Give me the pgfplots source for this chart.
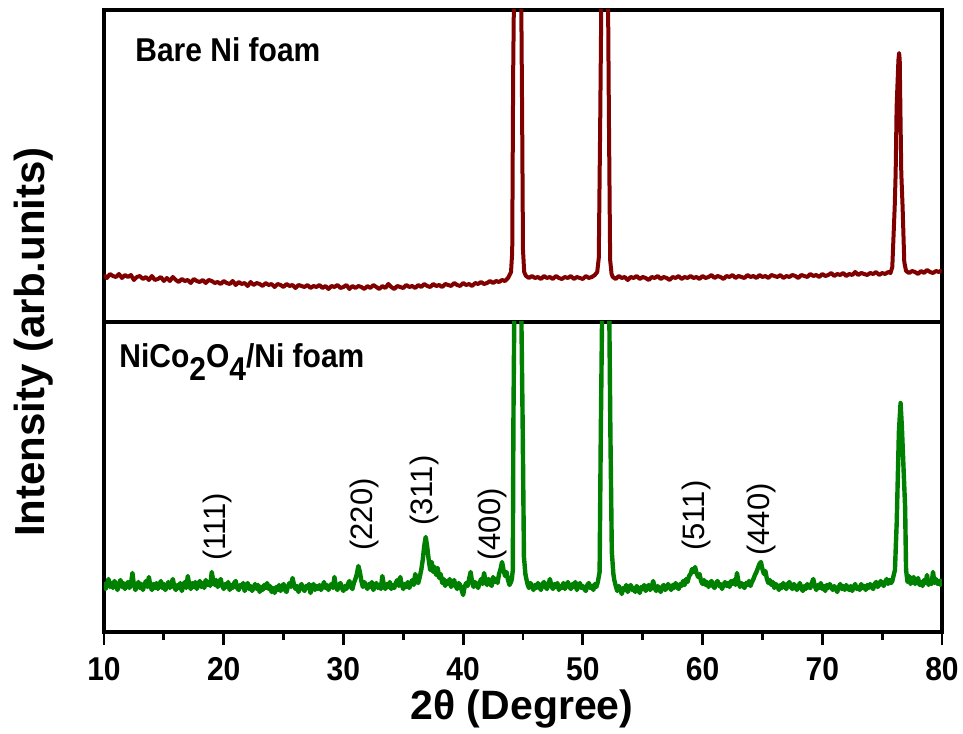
\documentclass[border=0pt]{standalone}
\usepackage{fontspec}
\setmainfont{Liberation Sans}
\usepackage{pgfplots}
\pgfplotsset{compat=1.18}
\definecolor{nired}{RGB}{128,0,0}
\definecolor{nicogreen}{RGB}{0,128,0}
\pgfplotsset{
  xrdpanel/.style={
    scale only axis, width=419pt, xmin=10, xmax=80, ymin=0,
    ytick=\empty, clip mode=individual,
    axis line style={line width=1.8pt},
    tick style={line width=1.4pt, black},
  },
}
\tikzset{hkl/.style={rotate=90, anchor=west, inner sep=0pt, font=\fontsize{15.5}{17}\selectfont}}
\begin{document}
\begin{tikzpicture}
\path[use as bounding box] (-52pt,-50.5pt) rectangle (429.5pt,316pt);
% ---------------- upper panel: bare Ni foam ----------------
\begin{axis}[xrdpanel, at={(0pt,155pt)}, anchor=south west, height=156pt, ymax=312, xtick=\empty]
\addplot[nired, line width=2.0pt, line join=round] coordinates {
(10.00,47) (10.25,44) (10.50,48) (10.75,46) (11.00,45) (11.25,48) (11.50,44) (11.75,47)
(12.00,45) (12.25,47) (12.50,42) (12.75,45) (13.00,46) (13.25,43) (13.50,45) (13.75,42)
(14.00,46) (14.25,42) (14.50,43) (14.75,45) (15.00,41) (15.25,44) (15.50,41) (15.75,45)
(16.00,42) (16.25,40) (16.50,43) (16.75,41) (17.00,42) (17.25,39) (17.50,43) (17.75,41)
(18.00,40) (18.25,42) (18.50,39) (18.75,42) (19.00,41) (19.25,39) (19.50,40) (19.75,38)
(20.00,41) (20.25,39) (20.50,38) (20.75,41) (21.00,37) (21.25,40) (21.50,38) (21.75,39)
(22.00,36) (22.25,40) (22.50,37) (22.75,39) (23.00,38) (23.25,36) (23.50,39) (23.75,37)
(24.00,38) (24.25,35) (24.50,38) (24.75,37) (25.00,35) (25.25,38) (25.50,36) (25.75,37)
(26.00,34) (26.25,37) (26.50,36) (26.75,35) (27.00,37) (27.25,34) (27.50,36) (27.75,35)
(28.00,37) (28.25,34) (28.50,36) (28.75,33) (29.00,36) (29.25,35) (29.50,37) (29.75,34)
(30.00,35) (30.25,37) (30.50,33) (30.75,36) (31.00,34) (31.25,36) (31.50,35) (31.75,33)
(32.00,36) (32.25,34) (32.50,37) (32.75,35) (33.00,33) (33.25,36) (33.50,34) (33.75,38)
(34.00,35) (34.25,33) (34.50,36) (34.75,35) (35.00,34) (35.25,37) (35.50,35) (35.75,36)
(36.00,34) (36.25,37) (36.50,35) (36.75,38) (37.00,36) (37.25,35) (37.50,38) (37.75,36)
(38.00,37) (38.25,35) (38.50,38) (38.75,37) (39.00,36) (39.25,39) (39.50,37) (39.75,36)
(40.00,39) (40.25,37) (40.50,38) (40.75,36) (41.00,39) (41.25,38) (41.50,40) (41.75,38)
(42.00,39) (42.25,41) (42.50,39) (42.75,41) (43.00,40) (43.25,42) (43.50,41) (43.75,44)
(44.00,50) (44.10,70) (44.18,250) (44.25,330) (44.50,600) (44.85,330) (44.92,220) (45.00,72)
(45.10,50) (45.25,46) (45.50,44) (45.75,46) (46.00,44) (46.25,45) (46.50,43) (46.75,46)
(47.00,44) (47.25,45) (47.50,43) (47.75,46) (48.00,44) (48.25,43) (48.50,45) (48.75,44)
(49.00,46) (49.25,43) (49.50,45) (49.75,44) (50.00,43) (50.25,46) (50.50,44) (50.75,45)
(51.00,47) (51.20,50) (51.33,64) (51.45,200) (51.55,330) (51.80,600) (52.10,330) (52.18,200)
(52.28,62) (52.40,48) (52.50,45) (52.75,43) (53.00,46) (53.25,44) (53.50,45) (53.75,42)
(54.00,45) (54.25,44) (54.50,46) (54.75,43) (55.00,45) (55.25,44) (55.50,42) (55.75,45)
(56.00,44) (56.25,46) (56.50,43) (56.75,45) (57.00,44) (57.25,42) (57.50,45) (57.75,44)
(58.00,46) (58.25,43) (58.50,45) (58.75,44) (59.00,46) (59.25,44) (59.50,45) (59.75,43)
(60.00,46) (60.25,44) (60.50,45) (60.75,47) (61.00,44) (61.25,46) (61.50,45) (61.75,43)
(62.00,46) (62.25,45) (62.50,47) (62.75,44) (63.00,46) (63.25,45) (63.50,44) (63.75,47)
(64.00,45) (64.25,46) (64.50,44) (64.75,47) (65.00,45) (65.25,46) (65.50,44) (65.75,47)
(66.00,46) (66.25,45) (66.50,47) (66.75,44) (67.00,46) (67.25,45) (67.50,47) (67.75,46)
(68.00,44) (68.25,47) (68.50,46) (68.75,45) (69.00,48) (69.25,46) (69.50,47) (69.75,45)
(70.00,48) (70.25,46) (70.50,47) (70.75,49) (71.00,46) (71.25,48) (71.50,47) (71.75,49)
(72.00,46) (72.25,48) (72.50,47) (72.75,50) (73.00,47) (73.25,49) (73.50,48) (73.75,47)
(74.00,49) (74.25,48) (74.50,50) (74.75,47) (75.00,49) (75.25,48) (75.50,50) (75.70,49)
(75.85,55) (76.05,115) (76.13,149) (76.21,215) (76.36,262) (76.42,269) (76.47,262) (76.54,200)
(76.60,149) (76.71,115) (76.85,60) (77.00,51) (77.25,49) (77.50,51) (77.75,50) (78.00,48)
(78.25,51) (78.50,49) (78.75,52) (79.00,50) (79.25,49) (79.50,51) (79.75,50) (80.00,52)
};
\node[anchor=base west, inner sep=0pt, yscale=1.1, font=\fontsize{15}{18}\selectfont\bfseries]
  at (axis cs:12.59,260) {Bare Ni foam};
\end{axis}
% ---------------- lower panel: NiCo2O4 on Ni foam ----------------
\begin{axis}[xrdpanel, at={(0pt,0pt)}, anchor=south west, height=155pt, ymax=310,
  xtick={10,20,...,80}, minor x tick num=1, xtick pos=left, tick align=outside,
  major tick length=6.5pt, minor tick length=4pt,
  /pgf/number format/assume math mode=true,
  xticklabel style={font=\fontsize{15}{18}\selectfont\bfseries, yscale=1.1, yshift=-2pt},
  xlabel={2θ (Degree)},
  every axis x label/.append style={at={(axis description cs:0.4988,0)}, anchor=center,
    yshift=-38.5pt, font=\fontsize{20.5}{24}\selectfont\bfseries},
]
\addplot[nicogreen, line width=2.2pt, line join=round] coordinates {
(10.000,50) (10.125,43) (10.250,47) (10.375,53) (10.500,45) (10.625,49) (10.750,44) (10.875,51)
(11.000,47) (11.125,42) (11.250,48) (11.375,52) (11.500,45) (11.625,49) (11.750,43) (11.875,47)
(12.000,50) (12.125,44) (12.250,48) (12.375,59) (12.500,47) (12.625,42) (12.750,46) (12.875,50)
(13.000,44) (13.125,48) (13.250,42) (13.375,47) (13.500,51) (13.625,45) (13.750,55) (13.875,46)
(14.000,42) (14.125,48) (14.250,44) (14.375,49) (14.500,43) (14.625,47) (14.750,51) (14.875,44)
(15.000,48) (15.125,42) (15.250,46) (15.375,50) (15.500,44) (15.625,48) (15.750,53) (15.875,45)
(16.000,42) (16.125,47) (16.250,44) (16.375,49) (16.500,41) (16.625,46) (16.750,50) (16.875,44)
(17.000,56) (17.125,47) (17.250,43) (17.375,49) (17.500,45) (17.625,50) (17.750,43) (17.875,48)
(18.000,51) (18.125,45) (18.250,49) (18.375,44) (18.500,52) (18.625,47) (18.750,50) (18.875,46)
(19.000,60) (19.125,51) (19.250,47) (19.375,52) (19.500,45) (19.625,49) (19.750,53) (19.875,46)
(20.000,43) (20.125,48) (20.250,45) (20.375,50) (20.500,42) (20.625,47) (20.750,44) (20.875,49)
(21.000,51) (21.125,44) (21.250,42) (21.375,47) (21.500,45) (21.625,49) (21.750,41) (21.875,46)
(22.000,49) (22.125,43) (22.250,46) (22.375,41) (22.500,45) (22.625,48) (22.750,43) (22.875,47)
(23.000,40) (23.125,45) (23.250,42) (23.375,47) (23.500,44) (23.625,49) (23.750,43) (23.875,46)
(24.000,40) (24.125,44) (24.250,39) (24.375,45) (24.500,42) (24.625,47) (24.750,41) (24.875,45)
(25.000,48) (25.125,42) (25.250,40) (25.375,46) (25.500,49) (25.625,45) (25.750,54) (25.875,47)
(26.000,43) (26.125,46) (26.250,40) (26.375,45) (26.500,48) (26.625,43) (26.750,41) (26.875,46)
(27.000,44) (27.125,48) (27.250,39) (27.375,44) (27.500,48) (27.625,42) (27.750,46) (27.875,43)
(28.000,47) (28.125,42) (28.250,45) (28.375,50) (28.500,44) (28.625,47) (28.750,42) (28.875,46)
(29.000,48) (29.125,44) (29.250,55) (29.375,45) (29.500,42) (29.625,47) (29.750,49) (29.875,44)
(30.000,41) (30.125,46) (30.250,43) (30.375,48) (30.500,51) (30.625,45) (30.750,43) (30.875,49)
(31.000,53) (31.125,58) (31.250,66) (31.375,60) (31.500,51) (31.625,45) (31.750,50) (31.875,47)
(32.000,43) (32.125,48) (32.250,45) (32.375,50) (32.500,42) (32.625,46) (32.750,49) (32.875,44)
(33.000,47) (33.125,43) (33.250,56) (33.375,47) (33.500,43) (33.625,48) (33.750,45) (33.875,50)
(34.000,43) (34.125,47) (34.250,44) (34.375,49) (34.500,52) (34.625,46) (34.750,55) (34.875,47)
(35.000,43) (35.125,48) (35.250,45) (35.375,50) (35.500,44) (35.625,48) (35.750,52) (35.875,47)
(36.000,58) (36.125,51) (36.250,49) (36.375,55) (36.500,62) (36.625,72) (36.750,86) (36.875,95)
(37.000,85) (37.125,72) (37.250,62) (37.375,70) (37.500,60) (37.625,65) (37.750,57) (37.875,64)
(38.000,54) (38.125,58) (38.250,49) (38.375,53) (38.500,46) (38.625,51) (38.750,48) (38.875,53)
(39.000,45) (39.125,49) (39.250,52) (39.375,46) (39.500,43) (39.625,49) (39.750,47) (39.875,42)
(40.000,37) (40.125,45) (40.250,49) (40.375,46) (40.500,53) (40.625,60) (40.750,50) (40.875,45)
(41.000,50) (41.125,47) (41.250,44) (41.375,49) (41.500,53) (41.625,48) (41.750,59) (41.875,50)
(42.000,47) (42.125,53) (42.250,49) (42.375,46) (42.500,55) (42.625,50) (42.750,53) (42.875,49)
(43.000,58) (43.125,63) (43.250,70) (43.375,62) (43.500,56) (43.625,60) (43.750,52) (43.875,47)
(44.000,50) (44.070,53) (44.150,62) (44.200,210) (44.280,330) (44.550,600) (44.850,330) (44.970,210)
(45.080,75) (45.200,58) (45.300,52) (45.400,47) (45.500,44) (45.625,49) (45.750,46) (45.875,42)
(46.000,47) (46.125,44) (46.250,49) (46.375,45) (46.500,42) (46.625,48) (46.750,50) (46.875,45)
(47.000,43) (47.125,48) (47.250,53) (47.375,46) (47.500,43) (47.625,48) (47.750,45) (47.875,49)
(48.000,42) (48.125,46) (48.250,44) (48.375,49) (48.500,43) (48.625,47) (48.750,50) (48.875,45)
(49.000,43) (49.125,48) (49.250,45) (49.375,50) (49.500,42) (49.625,46) (49.750,49) (49.875,44)
(50.000,46) (50.125,43) (50.250,41) (50.375,47) (50.500,49) (50.625,44) (50.750,46) (50.875,42)
(51.000,48) (51.125,45) (51.250,50) (51.400,60) (51.500,200) (51.620,330) (51.900,600) (52.200,330)
(52.300,200) (52.420,80) (52.550,58) (52.625,52) (52.750,46) (52.875,41)
(53.000,46) (53.125,43) (53.250,38) (53.375,44) (53.500,42) (53.625,47) (53.750,40) (53.875,44)
(54.000,47) (54.125,42) (54.250,44) (54.375,40) (54.500,46) (54.625,43) (54.750,39) (54.875,45)
(55.000,43) (55.125,47) (55.250,41) (55.375,45) (55.500,47) (55.625,42) (55.750,45) (55.875,51)
(56.000,44) (56.125,41) (56.250,46) (56.375,43) (56.500,40) (56.625,45) (56.750,47) (56.875,42)
(57.000,44) (57.125,48) (57.250,45) (57.375,42) (57.500,47) (57.625,44) (57.750,49) (57.875,45)
(58.000,43) (58.125,48) (58.250,46) (58.375,51) (58.500,47) (58.625,53) (58.750,50) (58.875,56)
(59.000,58) (59.125,63) (59.250,60) (59.375,65) (59.500,59) (59.625,55) (59.750,58) (59.875,51)
(60.000,48) (60.125,52) (60.250,47) (60.375,50) (60.500,45) (60.625,49) (60.750,51) (60.875,46)
(61.000,44) (61.125,49) (61.250,51) (61.375,46) (61.500,48) (61.625,43) (61.750,47) (61.875,50)
(62.000,46) (62.125,49) (62.250,45) (62.375,51) (62.500,48) (62.625,52) (62.750,47) (62.875,59)
(63.000,50) (63.125,45) (63.250,49) (63.375,46) (63.500,44) (63.625,49) (63.750,47) (63.875,51)
(64.000,46) (64.125,50) (64.250,53) (64.375,57) (64.500,60) (64.625,64) (64.750,68) (64.875,70)
(65.000,63) (65.125,58) (65.250,61) (65.375,53) (65.500,49) (65.625,52) (65.750,47) (65.875,50)
(66.000,44) (66.125,48) (66.250,46) (66.375,42) (66.500,47) (66.625,44) (66.750,49) (66.875,45)
(67.000,43) (67.125,48) (67.250,50) (67.375,45) (67.500,43) (67.625,48) (67.750,46) (67.875,42)
(68.000,45) (68.125,49) (68.250,44) (68.375,41) (68.500,46) (68.625,43) (68.750,48) (68.875,45)
(69.000,44) (69.125,49) (69.250,53) (69.375,46) (69.500,42) (69.625,47) (69.750,44) (69.875,49)
(70.000,43) (70.125,46) (70.250,41) (70.375,47) (70.500,44) (70.625,48) (70.750,45) (70.875,42)
(71.000,46) (71.125,43) (71.250,40) (71.375,45) (71.500,48) (71.625,43) (71.750,46) (71.875,42)
(72.000,47) (72.125,44) (72.250,42) (72.375,46) (72.500,41) (72.625,45) (72.750,48) (72.875,43)
(73.000,45) (73.125,42) (73.250,48) (73.375,44) (73.500,46) (73.625,42) (73.750,47) (73.875,44)
(74.000,48) (74.125,45) (74.250,43) (74.375,48) (74.500,50) (74.625,45) (74.750,47) (74.875,51)
(75.000,49) (75.125,46) (75.250,50) (75.375,53) (75.500,48) (75.625,52) (75.750,49) (75.850,51)
(76.070,62) (76.220,110) (76.300,150) (76.400,200) (76.540,229) (76.650,205) (76.800,160) (76.920,125)
(77.000,62) (77.120,50) (77.250,56) (77.375,48) (77.500,52) (77.625,55) (77.750,48) (77.875,51)
(78.000,54) (78.125,47) (78.250,50) (78.375,46) (78.500,52) (78.625,49) (78.750,57) (78.875,47)
(79.000,51) (79.125,48) (79.250,60) (79.375,49) (79.500,53) (79.625,48) (79.750,51) (79.875,47)
(80.000,53)
};
\node[anchor=base west, inner sep=0pt, yscale=1.1, font=\fontsize{15}{18}\selectfont\bfseries]
  at (axis cs:11.25,264) {NiCo\raisebox{-5.5pt}{2}O\raisebox{-5.5pt}{4}/Ni foam};
\node[hkl] at (axis cs:19.44,71)  {(111)};
\node[hkl] at (axis cs:31.80,81)  {(220)};
\node[hkl] at (axis cs:36.81,106) {(311)};
\node[hkl] at (axis cs:42.49,71)  {(400)};
\node[hkl] at (axis cs:59.53,81)  {(511)};
\node[hkl] at (axis cs:64.96,76)  {(440)};
\node[rotate=90, inner sep=0pt, font=\fontsize{21}{24}\selectfont\bfseries]
  at (rel axis cs:-0.0835,0.935) {Intensity (arb.units)};
\end{axis}
\end{tikzpicture}
\end{document}
